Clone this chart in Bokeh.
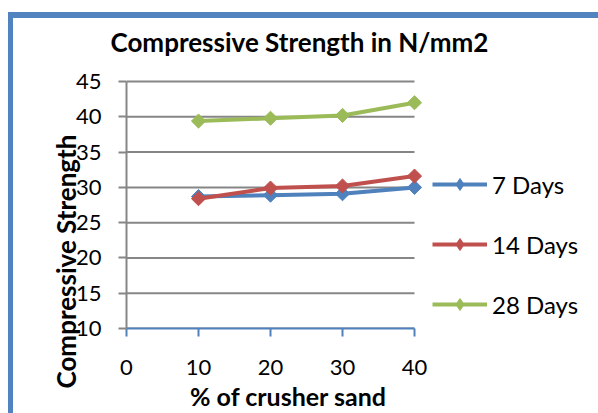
import math
from bokeh.plotting import figure
from bokeh.models import (Range1d, FixedTicker, Legend, LegendItem, Title)
from bokeh.embed import file_html
from bokeh.resources import INLINE

# ---- data ----
crusher_pct = [10, 20, 30, 40]
strength_7 = [28.7, 28.9, 29.1, 30.0]
strength_14 = [28.4, 29.9, 30.2, 31.6]
strength_28 = [39.4, 39.8, 40.2, 42.0]
series_names = ["7 Days", "14 Days", "28 Days"]
x_ticks = [0, 10, 20, 30, 40]
y_ticks = [10, 15, 20, 25, 30, 35, 40, 45]
title_text = "Compressive Strength in N/mm2"
x_title = "% of crusher sand"
y_title = "Compressive Strength"

BLUE = "#4F81BD"
RED = "#C0504D"
GREEN = "#9BBB59"
GRID = "#868686"
FONT = "Lato"

p = figure(frame_width=324, frame_height=254,
           x_range=Range1d(0, 45), y_range=Range1d(10, 46),
           output_backend="svg", toolbar_location=None,
           min_border_left=126, min_border_right=148,
           min_border_top=74, min_border_bottom=85)
p.outline_line_color = None
p.background_fill_color = "white"
p.border_fill_alpha = 0
p.xgrid.visible = False
p.ygrid.visible = False
# chart-area frame (blue on left/top, faint edge on right)
p.styles = {"box-shadow": "inset 8px 12px 0 0 #ffffff, "
                          "inset 13px 18px 0 0 #5283C1, "
                          "inset -1px 0 0 0 #B4C7E7"}

# title
p.title.text = title_text
p.title.align = "left"
p.title.offset = -16
p.title.standoff = 33
p.title.text_font = FONT
p.title.text_font_style = "bold"
p.title.text_font_size = "26px"
p.title.text_color = "black"

# horizontal gridlines, only across the 0..40 span
p.segment(x0=x_ticks[0], y0=y_ticks, x1=x_ticks[-1], y1=y_ticks,
          line_color=GRID, line_width=2)

items = []
for vals, color, name in zip([strength_7, strength_14, strength_28],
                             [BLUE, RED, GREEN], series_names):
    ln = p.line(crusher_pct, vals, line_width=4, line_color=color)
    p.scatter(crusher_pct, vals, marker="square", angle=math.pi / 4,
              size=10, fill_color=color, line_color=color)
    key = p.scatter(crusher_pct, vals, marker="diamond", size=14,
                    fill_color=color, line_color=color, visible=False)
    items.append(LegendItem(label=name, renderers=[ln, key]))

legend = Legend(items=items, location=(-18, 9), glyph_width=55,
                glyph_height=30, label_height=30, spacing=30, padding=0,
                margin=0, border_line_color=None, background_fill_alpha=0,
                label_standoff=5, label_text_font=FONT,
                label_text_font_size="24px", label_text_color="black",
                click_policy="none")
p.add_layout(legend, "right")

# x axis
xa = p.xaxis[0]
xa.ticker = FixedTicker(ticks=x_ticks)
xa.bounds = (0, 40)
xa.axis_line_color = BLUE
xa.axis_line_width = 2
xa.major_tick_line_color = BLUE
xa.major_tick_line_width = 2
xa.major_tick_out = 8
xa.major_tick_in = 0
xa.minor_tick_line_color = None
xa.major_label_text_font = FONT
xa.major_label_text_font_size = "22px"
xa.major_label_text_color = "black"
xa.major_label_standoff = 23
xa.axis_label = x_title
xa.axis_label_standoff = 3
xa.axis_label_text_font = FONT
xa.axis_label_text_font_style = "bold"
xa.axis_label_text_font_size = "25px"
xa.axis_label_text_color = "black"

# y axis
ya = p.yaxis[0]
ya.ticker = FixedTicker(ticks=y_ticks)
ya.bounds = (10, 45)
ya.axis_line_color = GRID
ya.axis_line_width = 2
ya.major_tick_line_color = GRID
ya.major_tick_line_width = 2
ya.major_tick_out = 8
ya.major_tick_in = 0
ya.minor_tick_line_color = None
ya.major_label_text_font = FONT
ya.major_label_text_font_size = "22px"
ya.major_label_text_color = "black"
ya.major_label_standoff = 17

# y axis title, overlapping the tick labels as in the reference
p.add_layout(Title(text=y_title, align="left", offset=-60, standoff=-18,
                   text_font=FONT, text_font_style="bold",
                   text_font_size="26px", text_color="black"), "left")

open("out.html", "w").write(file_html(p, INLINE))
